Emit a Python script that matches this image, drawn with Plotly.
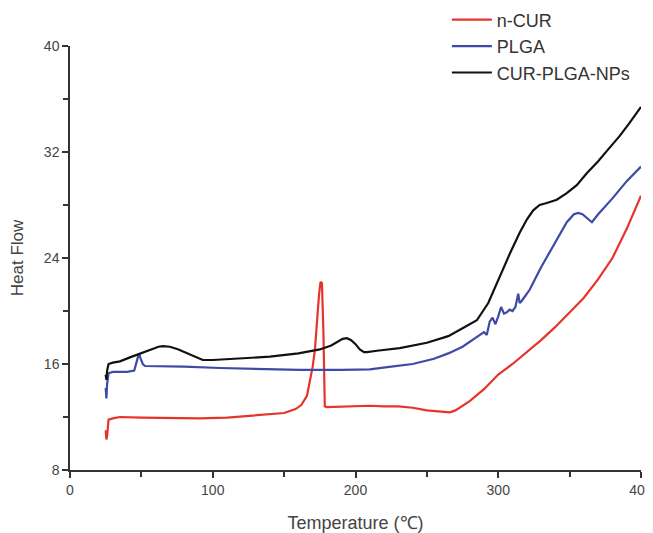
import plotly.graph_objects as go

# ---- data ----
cur_x = [25, 25.5, 26, 27, 30, 35, 50, 70, 91, 110, 138, 150, 158, 162, 166, 168, 170, 171.6, 173,
         174.5, 175.5, 176.5, 177.5, 178, 178.5, 180, 190, 200, 210, 220, 230, 240, 250, 260, 266,
         270, 280, 290, 300, 310, 320, 330, 340, 350, 360, 370, 380, 390, 400]
cur_y = [11.0, 10.3, 10.6, 11.8, 11.9, 12.0, 11.95, 11.9, 11.9, 11.95, 12.2, 12.3, 12.6, 12.9, 13.6,
         14.6, 15.8, 17.1, 19.5, 21.3, 22.2, 22.1, 18.5, 14.0, 12.8, 12.75, 12.8, 12.85, 12.85, 12.8,
         12.8, 12.7, 12.5, 12.4, 12.35, 12.5, 13.2, 14.1, 15.2, 16.0, 16.9, 17.8, 18.8, 19.9, 21.0,
         22.4, 24.0, 26.2, 28.7]

plga_x = [25, 25.5, 26, 27, 30, 40, 45, 47, 48.3, 49.5, 51, 52.5, 60, 80, 105, 130, 161, 190, 210,
          225, 240, 255, 265, 275, 283, 288, 290, 292, 294, 296, 298, 300, 302, 304, 306, 308, 310,
          312, 314, 315, 316, 318, 322, 330, 340, 348, 353, 356, 359, 362, 365.6, 370, 380, 390, 400]
plga_y = [14.2, 13.4, 14.5, 15.3, 15.4, 15.4, 15.5, 16.3, 16.8, 16.4, 16.0, 15.85, 15.85, 15.8,
          15.7, 15.65, 15.55, 15.55, 15.6, 15.8, 16.0, 16.4, 16.8, 17.3, 17.9, 18.3, 18.4, 18.2,
          19.2, 19.5, 19.0, 19.6, 20.3, 19.8, 19.9, 20.1, 20.0, 20.3, 21.3, 20.6, 20.7, 21.0, 21.6,
          23.3, 25.2, 26.7, 27.3, 27.4, 27.3, 27.0, 26.7, 27.3, 28.5, 29.8, 30.9]

nps_x = [25, 25.5, 26, 27, 30, 35, 42, 49, 56, 62, 65, 70, 76, 82, 88, 93, 100, 120, 140, 160, 175,
         183, 188, 191, 194, 197, 200, 203, 206, 208, 215, 231, 250, 265, 275, 285, 293, 301, 308,
         315, 320, 324.5, 329, 334, 341, 348, 355, 362, 370, 377, 385, 392, 400]
nps_y = [15.2, 14.8, 15.5, 16.0, 16.1, 16.2, 16.5, 16.8, 17.1, 17.3, 17.35, 17.3, 17.1, 16.8, 16.5,
         16.3, 16.3, 16.4, 16.55, 16.8, 17.1, 17.4, 17.7, 17.9, 17.95, 17.8, 17.5, 17.1, 16.9, 16.9,
         17.0, 17.2, 17.6, 18.1, 18.7, 19.3, 20.6, 22.6, 24.3, 25.9, 26.9, 27.6, 28.0, 28.15, 28.4,
         28.9, 29.5, 30.4, 31.3, 32.2, 33.2, 34.2, 35.4]

x_ticks = [0, 100, 200, 300, 400]
y_ticks = [8, 16, 24, 32, 40]

FONT = "Liberation Sans, Arial, sans-serif"
AX = "#333333"

fig = go.Figure()
fig.add_trace(go.Scatter(x=cur_x, y=cur_y, mode="lines", name="n-CUR",
                         line=dict(color="#e8332b", width=2.2)))
fig.add_trace(go.Scatter(x=plga_x, y=plga_y, mode="lines", name="PLGA",
                         line=dict(color="#3d4aa6", width=2.2)))
fig.add_trace(go.Scatter(x=nps_x, y=nps_y, mode="lines", name="CUR-PLGA-NPs",
                         line=dict(color="#111111", width=2.2)))

axis_common = dict(showgrid=False, zeroline=False, showline=True, linecolor=AX, linewidth=1.5,
                   ticks="outside", ticklen=6, tickwidth=1.5, tickcolor=AX, automargin=False,
                   tickfont=dict(family=FONT, size=14, color="#444444"))

fig.update_xaxes(range=[0, 400], tickvals=x_ticks, ticktext=[str(v) for v in x_ticks],
                 minor=dict(tickvals=[50, 150, 250, 350], ticks="outside", ticklen=5,
                            tickwidth=1.5, tickcolor=AX),
                 title=dict(text="Temperature (℃)", font=dict(family=FONT, size=18, color="#444444"),
                            standoff=24),
                 **axis_common)
fig.update_yaxes(range=[8, 40], tickvals=y_ticks, ticktext=[str(v) for v in y_ticks],
                 minor=dict(tickvals=[12, 20, 28, 36], ticks="outside", ticklen=5,
                            tickwidth=1.5, tickcolor=AX),
                 title=dict(text="Heat Flow", font=dict(family=FONT, size=17, color="#444444"),
                            standoff=16),
                 **axis_common)

# the page body adds an 8px offset, so the figure is 16px smaller than the window
fig.update_layout(
    width=645, height=525,
    margin=dict(l=62, r=12, t=38, b=63, autoexpand=False),
    plot_bgcolor="white", paper_bgcolor="white",
    showlegend=True,
    legend=dict(x=0.66, y=1.105, xanchor="left", yanchor="top",
                font=dict(family=FONT, size=18, color="#333333"),
                bgcolor="rgba(0,0,0,0)", tracegroupgap=0, itemwidth=40),
)

fig.write_html("out.html")
